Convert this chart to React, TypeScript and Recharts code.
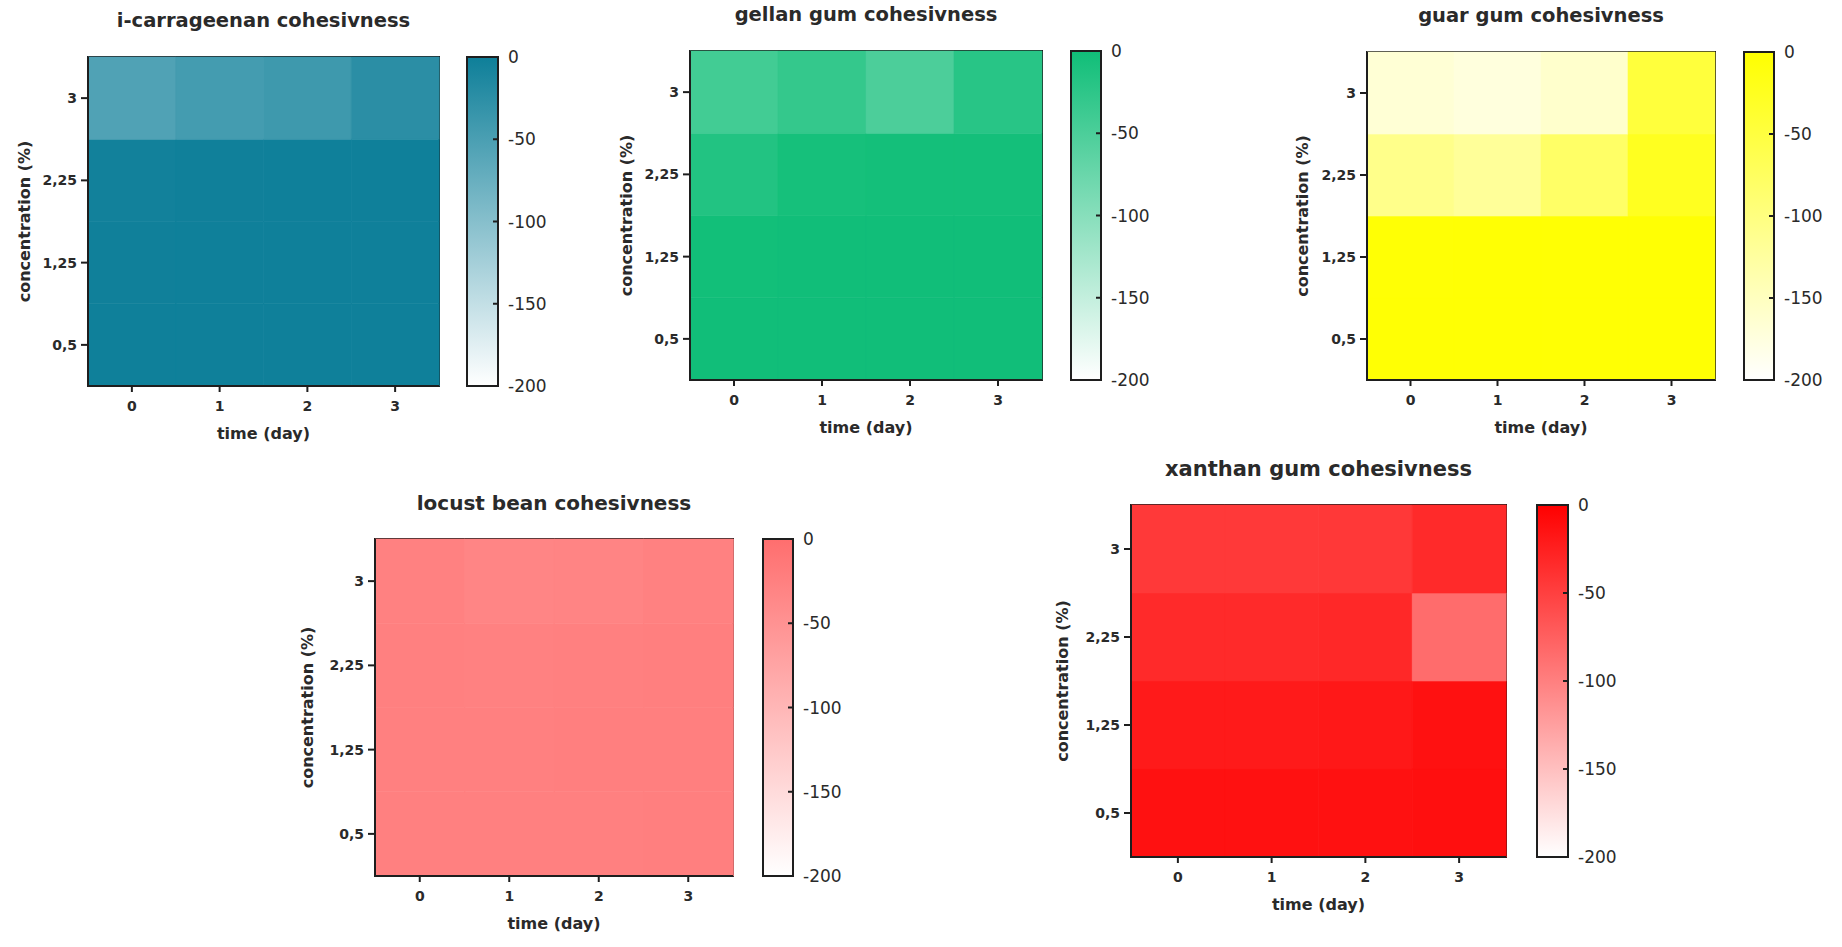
import { BarChart, Bar, XAxis, YAxis, Cell, ReferenceArea } from 'recharts';

const days = ['0', '1', '2', '3'];
// heatmap rows, top to bottom
const concentrations = ['3', '2,25', '1,25', '0,5'];
const scaleTicks = [0, -50, -100, -150, -200];
const scaleMin = -200;

// cohesiveness change per concentration (rows) and day (columns)
const carrageenan = [
  [-55, -45, -40, -24],
  [-3, -2, -1, -1],
  [-2, -1, -1, -1],
  [-1, -1, -1, -1],
];
const gellan = [
  [-42, -30, -50, -20],
  [-15, -5, -3, -3],
  [-2, -1, -1, -1],
  [-1, -1, -1, -1],
];
const guar = [
  [-167, -173, -160, -47],
  [-108, -120, -80, -25],
  [-4, -3, -3, -3],
  [-3, -3, -3, -3],
];
const locustBean = [
  [-26, -32, -31, -26],
  [-25, -26, -25, -24],
  [-25, -25, -24, -24],
  [-25, -25, -25, -24],
];
const xanthan = [
  [-45, -45, -44, -33],
  [-33, -33, -31, -85],
  [-20, -20, -19, -13],
  [-13, -13, -13, -12],
];

const FONT = '"DejaVu Sans", sans-serif';
const INK = '#2a2a2a';
const FRAME = '#1e1e1e';

interface Box { x: number; y: number; w: number; h: number }
interface PanelDef {
  id: string;
  title: string;
  values: number[][];
  color: string;
  box: Box;
  barX: number;
  barW: number;
  titleSize: number;
  labelGap: number;
}

const panels: PanelDef[] = [
  { id: 'carr', title: 'i-carrageenan cohesivness', values: carrageenan, color: '#0e7f99', box: { x: 88, y: 57, w: 351, h: 329 }, barX: 467, barW: 31, titleSize: 19.5, labelGap: 64 },
  { id: 'gellan', title: 'gellan gum cohesivness', values: gellan, color: '#10be78', box: { x: 690, y: 51, w: 352, h: 329 }, barX: 1071, barW: 30, titleSize: 19.5, labelGap: 64 },
  { id: 'guar', title: 'guar gum cohesivness', values: guar, color: '#ffff00', box: { x: 1367, y: 52, w: 348, h: 328 }, barX: 1744, barW: 30, titleSize: 19.5, labelGap: 65 },
  { id: 'locust', title: 'locust bean cohesivness', values: locustBean, color: '#ff6e6e', box: { x: 375, y: 539, w: 358, h: 337 }, barX: 763, barW: 30, titleSize: 20, labelGap: 68 },
  { id: 'xanthan', title: 'xanthan gum cohesivness', values: xanthan, color: '#ff0000', box: { x: 1131, y: 505, w: 375, h: 352 }, barX: 1537, barW: 31, titleSize: 21, labelGap: 69 },
];

// blend the full colour towards white as the value drops to the scale minimum
function shade(hex: string, v: number) {
  const t = Math.min(1, Math.max(0, v / scaleMin));
  const n = parseInt(hex.slice(1), 16);
  const mix = (c: number) => Math.round(c + (255 - c) * t);
  return `rgb(${mix((n >> 16) & 255)},${mix((n >> 8) & 255)},${mix(n & 255)})`;
}

const tickStyle = { fontSize: 14, fontWeight: 700, fill: INK, fontFamily: FONT };
const titleStyle = { fontSize: 16, fontWeight: 700, fill: INK, fontFamily: FONT };
const AXIS_W = 95;

function Panel({ p }: { p: PanelDef }) {
  const { box } = p;
  const rowCount = concentrations.length;
  const rowCenters = concentrations.map((_, i) => i + 0.5);
  // one entry per day, one field per concentration row
  const data = days.map((day, j) => {
    const row: Record<string, string | number> = { day };
    concentrations.forEach((_, i) => {
      row[`v${i}`] = p.values[i][j];
    });
    return row;
  });
  const gradId = `scale-${p.id}`;

  return (
    <>
      <div
        style={{
          position: 'absolute',
          left: box.x + box.w / 2,
          top: box.y - 48,
          transform: 'translateX(-50%)',
          whiteSpace: 'nowrap',
          height: 24,
          lineHeight: '24px',
          fontFamily: FONT,
          fontWeight: 700,
          fontSize: p.titleSize,
          color: INK,
        }}
      >
        {p.title}
      </div>

      <div style={{ position: 'absolute', left: box.x - AXIS_W, top: box.y - 4 }}>
        <BarChart
          width={AXIS_W + box.w + 4}
          height={4 + box.h + 65}
          data={data}
          margin={{ top: 4, right: 4, left: 0, bottom: 0 }}
          barCategoryGap={0}
          barGap={0}
        >
          {/* bottom row first so the stack grows upward */}
          {concentrations
            .map((_, i) => i)
            .reverse()
            .map((i) => (
              <Bar key={i} dataKey={() => 1} stackId="cells" isAnimationActive={false}>
                {days.map((d, j) => {
                  const fill = shade(p.color, p.values[i][j]);
                  return <Cell key={d} fill={fill} stroke={fill} strokeWidth={0.6} />;
                })}
              </Bar>
            ))}
          <XAxis
            dataKey="day"
            height={65}
            axisLine={{ stroke: FRAME, strokeWidth: 2 }}
            tickLine={{ stroke: FRAME, strokeWidth: 2 }}
            tickSize={6}
            tickMargin={9}
            tick={tickStyle}
            label={{ value: 'time (day)', position: 'insideBottom', offset: 12, style: titleStyle }}
          />
          <YAxis
            type="number"
            domain={[0, rowCount]}
            ticks={rowCenters}
            interval={0}
            width={AXIS_W}
            tickFormatter={(v: number) => concentrations[rowCount - 1 - Math.floor(v)]}
            axisLine={{ stroke: FRAME, strokeWidth: 2 }}
            tickLine={{ stroke: FRAME, strokeWidth: 2 }}
            tickSize={7}
            tickMargin={4}
            tick={tickStyle}
            label={{
              value: 'concentration (%)',
              angle: -90,
              position: 'insideLeft',
              offset: AXIS_W - p.labelGap,
              style: { ...titleStyle, textAnchor: 'middle' },
            }}
          />
          {/* frame around the whole grid */}
          <ReferenceArea y1={0} y2={rowCount} fill="none" stroke={FRAME} strokeWidth={2} fillOpacity={0} />
        </BarChart>
      </div>

      <div style={{ position: 'absolute', left: p.barX - 2, top: box.y - 14 }}>
        <BarChart
          width={2 + p.barW + 66}
          height={box.h + 28}
          data={[{ name: 'scale', range: [scaleMin, 0] }]}
          margin={{ top: 14, right: 0, bottom: 14, left: 2 }}
          barCategoryGap={0}
        >
          <defs>
            <linearGradient id={gradId} x1="0" y1="0" x2="0" y2="1">
              <stop offset="0" stopColor={p.color} />
              <stop offset="1" stopColor="#ffffff" />
            </linearGradient>
          </defs>
          <XAxis dataKey="name" hide />
          <Bar
            yAxisId="right"
            dataKey="range"
            fill={`url(#${gradId})`}
            stroke={FRAME}
            strokeWidth={2}
            isAnimationActive={false}
          />
          <YAxis
            yAxisId="left"
            orientation="left"
            type="number"
            domain={[scaleMin, 0]}
            ticks={scaleTicks}
            interval={0}
            width={0}
            axisLine={false}
            tick={false}
            tickSize={-5}
            tickLine={{ stroke: FRAME, strokeWidth: 2 }}
          />
          <YAxis
            yAxisId="right"
            orientation="right"
            type="number"
            domain={[scaleMin, 0]}
            ticks={scaleTicks}
            interval={0}
            width={66}
            axisLine={false}
            tickSize={-5}
            tickMargin={15}
            tickLine={{ stroke: FRAME, strokeWidth: 2 }}
            tick={{ fontSize: 17, fill: INK, fontFamily: FONT }}
          />
        </BarChart>
      </div>
    </>
  );
}

export default function App() {
  return (
    <div
      style={{
        position: 'absolute',
        left: 0,
        top: 0,
        width: 1842,
        height: 947,
        background: '#ffffff',
        overflow: 'hidden',
      }}
    >
      {panels.map((p) => (
        <Panel key={p.id} p={p} />
      ))}
    </div>
  );
}
